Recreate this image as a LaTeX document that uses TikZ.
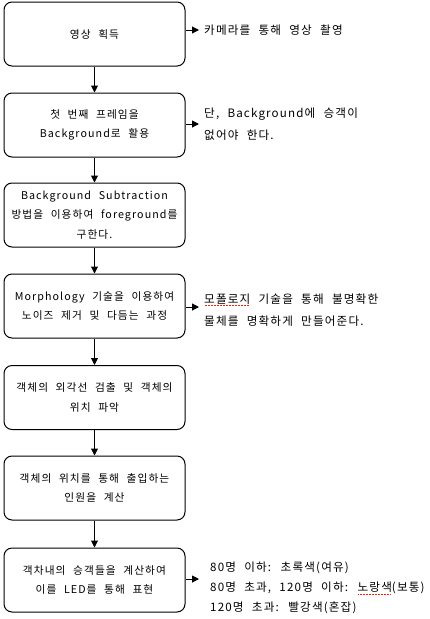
\documentclass[tikz,border=0pt]{standalone}
\usepackage{fontspec}
\setmainfont{Noto Sans CJK KR}[LetterSpace=10,WordSpace=2.2]
\usetikzlibrary{arrows.meta}
% red dotted underline under flagged words
\newsavebox\spellbox
\newcommand\spellmark[1]{\sbox\spellbox{#1}%
  \rlap{\textcolor{red!75!orange}{\raisebox{-2.4pt}{\hbox to \wd\spellbox{%
    \leaders\hbox to 1.5pt{\hss\rule{0.5pt}{0.5pt}\hss}\hfill}}}}%
  \usebox\spellbox}
\begin{document}
\begin{tikzpicture}[x=1pt,y=-1pt,
  stepbox/.style={draw,line width=1pt,rounded corners=8pt,minimum width=181pt,
    minimum height=64pt,align=center,inner sep=2pt,font=\fontsize{10.7}{19.5}\selectfont},
  note/.style={anchor=west,align=left,inner sep=0pt,font=\fontsize{11.6}{22}\selectfont},
  arr/.style={line width=1pt,-{Triangle[length=7pt,width=7pt]}}]
\useasboundingbox (0,0) rectangle (429,619);

% process steps
\node[stepbox] (b1) at (94.5,34) {영상 획득};
\node[stepbox] (b2) at (94.5,125) {첫 번째 프레임을\\Background로 활용};
\node[stepbox] (b3) at (94.5,215) {Background Subtraction\\방법을 이용하여 foreground를\\구한다.};
\node[stepbox] (b4) at (94.5,306) {Morphology 기술을 이용하여\\노이즈 제거 및 다듬는 과정};
\node[stepbox] (b5) at (94.5,397.5) {객체의 외각선 검출 및 객체의\\위치 파악};
\node[stepbox] (b6) at (94.5,488) {객체의 위치를 통해 출입하는\\인원을 계산};
\node[stepbox] (b7) at (94.5,580) {객차내의 승객들을 계산하여\\이를 LED를 통해 표현};

% side notes
\node[note] (s1) at (204,30) {카메라를 통해 영상 촬영};
\node[note] (s2) at (204,124) {단, Background에 승객이\\없어야 한다.};
\node[note] (s4) at (204,310) {\spellmark{모폴로지} 기술을 통해 불명확한\\물체를 명확하게 만들어준다.};
\node[note,font=\fontsize{11.6}{20}\selectfont] (s7) at (210,588) {80명 이하: 초록색(여유)\\80명 초과, 120명 이하: \spellmark{노랑색}(보통)\\120명 초과: 빨강색(혼잡)};

% flow
\draw[arr] (b1) -- (b2);
\draw[arr] (b2) -- (b3);
\draw[arr] (b3) -- (b4);
\draw[arr] (b4) -- (b5);
\draw[arr] (b5) -- (b6);
\draw[arr] (b6) -- (b7);

% pointers to the notes
\draw[arr] (s1.west -| b1.east) -- ([xshift=-5pt]s1.west);
\draw[arr] (s2.west -| b2.east) -- ([xshift=-5pt]s2.west);
\draw[arr] ([yshift=3pt]s4.west -| b4.east) -- ([xshift=-5pt,yshift=3pt]s4.west);
\draw[arr] ([yshift=9pt]s7.west -| b7.east) -- ([xshift=-11pt,yshift=9pt]s7.west);
\end{tikzpicture}
\end{document}
